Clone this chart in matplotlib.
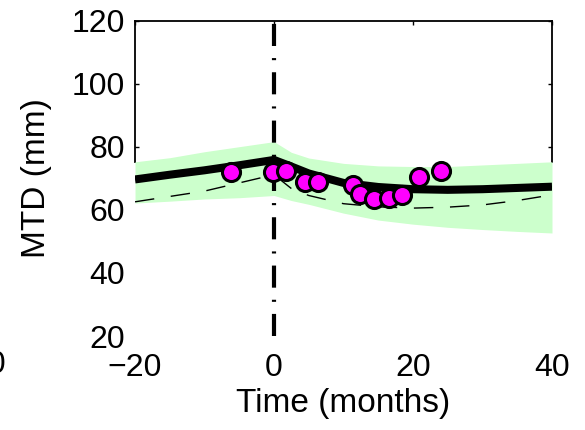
import matplotlib
matplotlib.use("Agg")
import matplotlib.pyplot as plt

plt.rcParams['font.family'] = ['Liberation Sans', 'DejaVu Sans']

# model curve, its envelope and the dashed reference curve
t_model = [-20, -15, -10, -5, 0, 2.5, 5, 10, 15, 20, 25, 30, 35, 40]
mtd_mean = [69.7, 71.2, 72.6, 74.2, 75.9, 73.8, 71.6, 68.6, 67.3, 66.6, 66.4, 66.6, 67.0, 67.4]
mtd_dashed = [62.6, 64.3, 66.0, 68.6, 71.2, 66.8, 64.6, 62.0, 61.0, 60.6, 60.9, 61.6, 63.0, 64.8]
band_upper = [75.3, 76.6, 78.5, 80.1, 81.7, 78.3, 76.5, 74.8, 74.0, 73.8, 73.8, 74.3, 74.8, 75.3]
band_lower = [62.2, 62.8, 63.5, 63.9, 64.6, 63.0, 61.8, 59.0, 56.8, 55.5, 54.5, 53.8, 53.2, 52.7]

# measurements
t_obs = [-6.2, -0.2, 1.7, 4.5, 6.3, 11.4, 12.4, 14.4, 16.5, 18.4, 20.9, 24.0]
mtd_obs = [72.1, 72.1, 72.4, 68.8, 68.8, 67.9, 65.2, 63.5, 63.8, 64.9, 70.5, 72.4]

event_time = 0
xticks = [-20, 0, 20, 40]
yticks = [20, 40, 60, 80, 100, 120]

fig = plt.figure(figsize=(5.85, 4.30), dpi=100)
ax = fig.add_axes([0.2308, 0.2186, 0.7128, 0.7326])

ax.fill_between(t_model, band_lower, band_upper, color='#ccffcc', lw=0, zorder=3)
ax.plot(t_model, mtd_dashed, color='black', lw=1.0, dashes=(14, 12), zorder=4)
ax.plot(t_model, mtd_mean, color='black', lw=5.8, solid_capstyle='butt', zorder=5)
ax.axvline(event_time, color='black', lw=3, linestyle=(0, (5.3, 2.9, 0.5, 2.9)),
           dash_capstyle='butt', zorder=6)
ax.plot(t_obs, mtd_obs, 'o', ms=13, mfc='#ff00ff', mec='black', mew=2.2, zorder=7)

ax.set_xlim(-20, 40)
ax.set_ylim(20, 120)
ax.set_xticks(xticks)
ax.set_yticks(yticks)

for side in ['left', 'right', 'top']:
    ax.spines[side].set_linewidth(1.3)
ax.spines['bottom'].set_visible(False)
ax.spines['left'].set_bounds(band_upper[0], 120)
ax.spines['right'].set_bounds(band_upper[-1], 120)

ax.tick_params(axis='x', bottom=False, top=True, labelbottom=True, direction='in',
               length=3, width=1, labelsize=23, pad=12)
ax.tick_params(axis='y', left=True, right=True, direction='in',
               length=3, width=1, labelsize=23, pad=7)
for tick, val in zip(ax.yaxis.get_major_ticks(), yticks):
    if val < band_upper[0]:
        tick.tick1line.set_visible(False)
        tick.tick2line.set_visible(False)

ax.set_xlabel('Time (months)', fontsize=24, labelpad=4)
ax.set_ylabel('MTD (mm)', fontsize=24, labelpad=14)

# cut-off tick label of the neighbouring panel
fig.text(6 / 585, 1 - 365 / 430, '40', fontsize=23, ha='right', va='center')

fig.savefig('out.png', dpi=100)
